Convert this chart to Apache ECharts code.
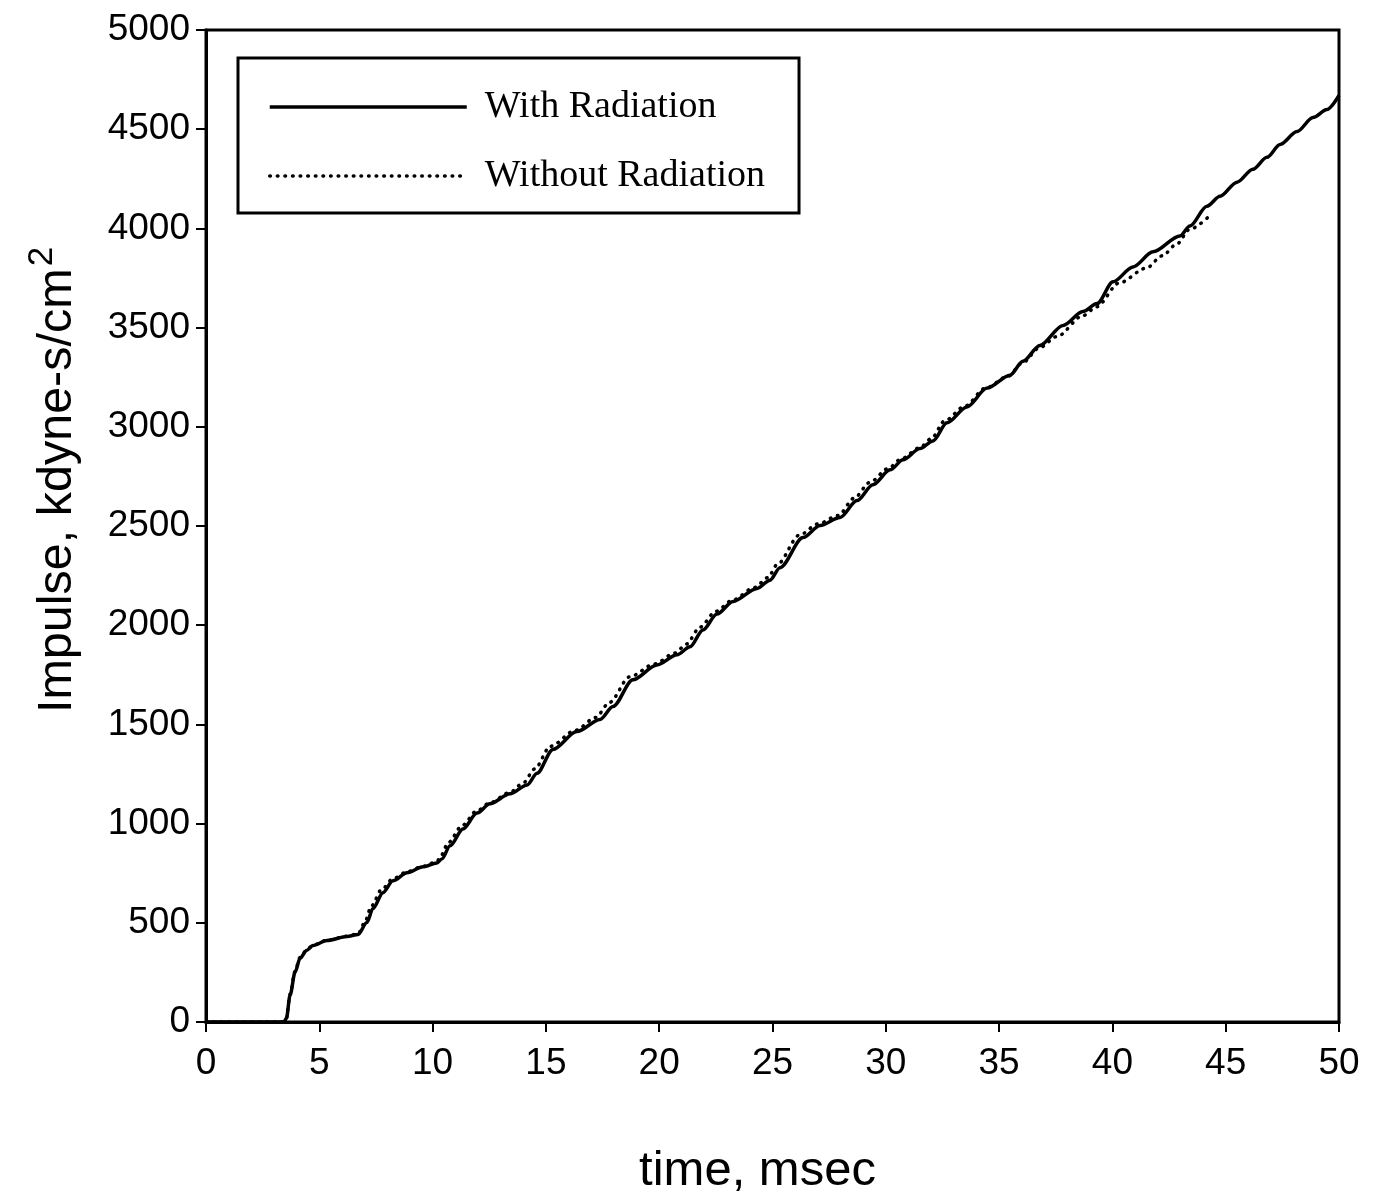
<!DOCTYPE html>
<html>
<head>
<meta charset="utf-8">
<title>Impulse vs time</title>
<script src="https://cdn.jsdelivr.net/npm/echarts@6/dist/echarts.min.js"></script>
<style>
  html, body { margin: 0; padding: 0; background: #fff; }
  #chart { width: 1377px; height: 1201px; }
</style>
</head>
<body>
<div id="chart"></div>
<script>
// Impulse history, with and without radiation (time in msec, impulse in kdyne-s/cm^2)
const timeWith = [0, 3.45, 3.55, 3.71, 3.93, 4.15, 4.44, 4.72, 5.34, 6.22, 6.71, 7.10, 7.37, 7.81, 8.25,
  8.87, 9.58, 10.19, 10.41, 10.77, 11.34, 11.96, 12.53, 13.42, 14.17, 14.61, 15.31, 16.37, 17.39, 17.96,
  18.84, 19.90, 20.79, 21.36, 21.93, 22.55, 23.26, 24.32, 24.89, 25.33, 26.35, 27.10, 27.98, 28.73, 29.43,
  30.19, 30.76, 31.51, 32.08, 32.70, 33.58, 34.47, 35.48, 36.05, 36.80, 37.82, 38.70, 39.32, 40.03, 40.91,
  41.79, 42.98, 43.42, 44.17, 44.75, 45.50, 46.20, 46.82, 47.40, 48.15, 48.85, 49.47, 50.00];
const impulseWith = [0, 0, 20, 135, 251, 321, 361, 386, 411, 431, 441, 502, 572, 652, 712,
  752, 782, 802, 822, 888, 973, 1053, 1100, 1150, 1195, 1254, 1374, 1464, 1525, 1590,
  1725, 1800, 1851, 1891, 1976, 2056, 2120, 2185, 2227, 2290, 2442, 2503, 2543, 2628, 2708,
  2783, 2834, 2890, 2929, 3020, 3100, 3195, 3260, 3330, 3410, 3511, 3581, 3621, 3731, 3806,
  3882, 3962, 4012, 4112, 4162, 4233, 4298, 4358, 4423, 4488, 4559, 4599, 4670];

const timeWithout = [0, 3.45, 3.55, 3.71, 3.93, 4.15, 4.44, 4.72, 5.34, 6.22, 6.71, 7.00, 7.30, 7.75, 8.25,
  8.87, 9.58, 10.19, 10.35, 10.70, 11.30, 11.96, 12.53, 13.42, 14.00, 14.50, 15.20, 16.30, 17.20, 17.80,
  18.70, 19.80, 20.70, 21.20, 21.80, 22.50, 23.26, 24.20, 24.80, 25.20, 26.20, 27.00, 27.90, 28.60, 29.30,
  30.10, 30.70, 31.50, 32.00, 32.60, 33.50, 34.40, 35.40, 36.00, 36.80, 37.55, 38.70, 39.30, 40.30, 41.50,
  42.20, 42.85, 43.40, 44.39];
const impulseWithout = [0, 0, 20, 140, 255, 325, 363, 388, 412, 432, 445, 500, 585, 668, 722,
  757, 785, 808, 835, 905, 990, 1065, 1105, 1158, 1205, 1275, 1390, 1470, 1535, 1610,
  1740, 1805, 1860, 1905, 1990, 2070, 2128, 2190, 2240, 2305, 2455, 2510, 2553, 2640, 2720,
  2790, 2840, 2895, 2940, 3030, 3105, 3195, 3255, 3320, 3400, 3455, 3560, 3605, 3725, 3800,
  3862, 3922, 3995, 4075];

const seriesNames = ['With Radiation', 'Without Radiation'];

const sansFont = '"Liberation Sans", Arial, Helvetica, sans-serif';
const serifFont = '"Liberation Serif", "Times New Roman", serif';

const chart = echarts.init(document.getElementById('chart'));

chart.setOption({
  backgroundColor: '#ffffff',
  animation: false,
  grid: {
    left: 206, top: 30, right: 38, bottom: 174,
    show: true, borderColor: '#000', borderWidth: 3, backgroundColor: 'transparent'
  },
  legend: {
    data: seriesNames,
    orient: 'vertical',
    left: 238, top: 58,
    padding: [30, 34, 18, 30],
    itemWidth: 197, itemHeight: 30, itemGap: 31,
    borderColor: '#000', borderWidth: 3,
    backgroundColor: '#fff',
    // keep only the line sample in each legend entry
    itemStyle: { opacity: 0 },
    lineStyle: { width: 3.5 },
    textStyle: { fontFamily: serifFont, fontSize: 38, color: '#000', padding: [0, 0, 0, 13] }
  },
  xAxis: {
    type: 'value', min: 0, max: 50, interval: 5,
    name: '{t|time, msec}',
    nameLocation: 'middle', nameGap: 125,
    nameTextStyle: { rich: { t: { fontFamily: sansFont, fontSize: 49, color: '#000', padding: [0, 30, 0, 0] } } },
    axisLine: { show: true, onZero: false, lineStyle: { color: '#000', width: 3 } },
    axisTick: { show: true, inside: false, length: 10, lineStyle: { color: '#000', width: 2 } },
    axisLabel: { fontFamily: sansFont, fontSize: 37, color: '#000', margin: 23 },
    splitLine: { show: false }
  },
  yAxis: {
    type: 'value', min: 0, max: 5000, interval: 500,
    name: '{a|Impulse, kdyne-s/cm}{s|2}',
    nameLocation: 'middle', nameGap: 124, nameRotate: 90,
    nameTextStyle: {
      rich: {
        a: { fontFamily: sansFont, fontSize: 48.5, color: '#000', padding: [0, 0, 0, 92], verticalAlign: 'bottom' },
        s: { fontFamily: sansFont, fontSize: 35, color: '#000', verticalAlign: 'top', padding: [0, 0, 22, 2] }
      }
    },
    axisLine: { show: true, onZero: false, lineStyle: { color: '#000', width: 3 } },
    axisTick: { show: true, inside: false, length: 10, lineStyle: { color: '#000', width: 2 } },
    axisLabel: { fontFamily: sansFont, fontSize: 37, color: '#000', margin: 16, formatter: v => String(v) },
    splitLine: { show: false }
  },
  series: [
    {
      name: seriesNames[1],
      type: 'line',
      data: timeWithout.map((t, i) => [t, impulseWithout[i]]),
      symbol: 'none',
      smooth: 0.3, smoothMonotone: 'x',
      z: 2,
      lineStyle: { color: '#000', width: 3.5, type: [0.6, 7], cap: 'round' },
      itemStyle: { color: '#000' }
    },
    {
      name: seriesNames[0],
      type: 'line',
      data: timeWith.map((t, i) => [t, impulseWith[i]]),
      symbol: 'none',
      smooth: 0.3, smoothMonotone: 'x',
      z: 3,
      lineStyle: { color: '#000', width: 3.5, type: 'solid' },
      itemStyle: { color: '#000' }
    }
  ]
});
</script>
</body>
</html>
